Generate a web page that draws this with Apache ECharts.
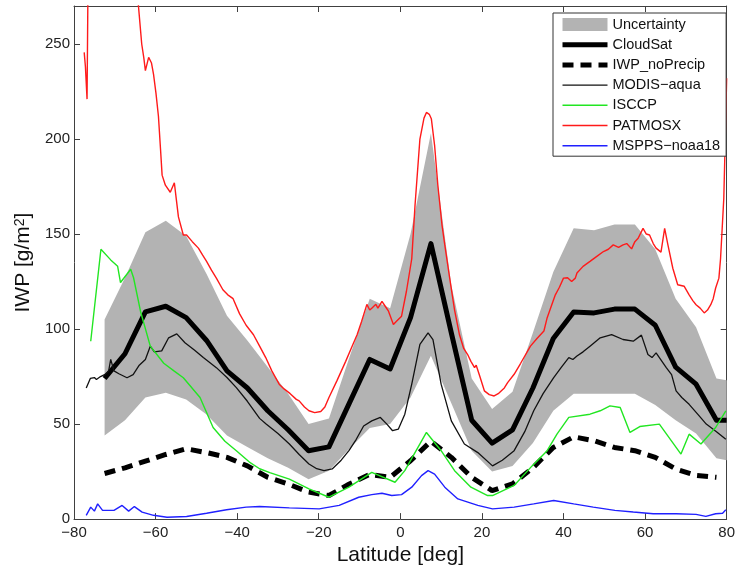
<!DOCTYPE html>
<html><head><meta charset="utf-8">
<script src="https://cdn.jsdelivr.net/npm/echarts@6/dist/echarts.min.js"></script>
<style>html,body{margin:0;padding:0;background:#fff}#c{width:738px;height:571px}</style>
</head><body><div id="c"></div>
<script>
// ---- axis ticks ----
const xTicks = [-80, -60, -40, -20, 0, 20, 40, 60, 80];
const yTicks = [0, 50, 100, 150, 200, 250];
const yMax = 270;

// ---- 5-degree bins (CloudSat, uncertainty, noPrecip) ----
const binLat = [-72.5,-67.5,-62.5,-57.5,-52.5,-47.5,-42.5,-37.5,-32.5,-27.5,-22.5,-17.5,-12.5,-7.5,-2.5,2.5,7.5,12.5,17.5,22.5,27.5,32.5,37.5,42.5,47.5,52.5,57.5,62.5,67.5,72.5,77.5,80];
const cloudsat = [74,87,109,112,106,94,78,69,57,47,36,38,61,84,79,106,145,98,52,40,47,69,95,109,108.5,110.5,110.5,102,80,71,52,52];
const bandUpper = [105,127,151,157,149,129,107,94,80,66,50,53,85,116,111,150,203,123,74,58,67,98,130,153,152,155,155,142,116,101,74,73];
const bandLower = [44,52,64,66.5,63,55,44,38,32,27,21,25.5,37,48,50,64,86,61,36,25,28,40,57,66,66,66,66,60,52,45,32,31];
const noPrecip = [24,27,30.5,34,37,35,32.5,28,22,18.5,14.2,12.4,18.5,23.5,22,30.7,41,32.5,22,15,18.5,27,37.7,43.3,41.2,37.7,36,32.5,26.4,23,22,null];

// ---- finer resolution products: [latitude, IWP] ----
const modis = [[-77,69],[-76,74],[-75,74.5],[-74.5,73.5],[-73.5,75],[-72.5,76],[-71.5,78],[-71,84],[-70.2,78],[-69,76.5],[-67,74.4],[-65.5,76],[-64,81],[-62.5,84],[-61.3,91],[-60.3,88],[-58.5,88.5],[-56.8,95.4],[-54.8,97.5],[-52.8,92.8],[-50.5,89],[-48.3,85],[-45.1,79.7],[-42.5,74.5],[-40.2,69.2],[-37.5,62],[-34.5,53],[-32.9,50],[-30,45],[-27.2,39.5],[-24.8,34],[-22.4,29],[-20.5,26.5],[-18.7,25.5],[-16.7,26.4],[-14.5,31],[-12.6,36],[-10.8,42],[-9,49],[-7,51.7],[-4.9,53.5],[-3.3,50],[-1.9,46.5],[-0.5,47.3],[1.1,55.2],[2.8,71],[4.8,92],[6.8,98],[8,94.5],[10,71],[12.5,51.7],[15.7,39.5],[19,35],[22.6,28],[25,31],[27.9,36],[30.5,46],[32.7,57],[35,66],[37.6,74.4],[39.5,80],[41.3,85],[42.3,84],[43.3,85.8],[44.8,88],[46.5,91],[49,95.4],[51.8,97.1],[54.6,94.5],[57.1,93.6],[59.1,96.8],[60.7,86.6],[61.7,85],[62.7,87.5],[65.2,79.7],[66.5,76],[67.6,67.5],[69,64],[70.8,60.4],[73,55],[75,50],[77.5,46],[79.8,42]];
const isccp = [[-75.9,93.6],[-73.4,142],[-71,136.4],[-69.3,133],[-68.6,124.5],[-66.1,131.5],[-65.4,127],[-63.7,109.4],[-61.3,91],[-58,82],[-55.5,78],[-53.2,74.4],[-49.1,64],[-45.9,48.2],[-43,41],[-40.2,36],[-37,30],[-34.5,26.5],[-32,24.5],[-27.2,21],[-22.4,15.9],[-17.5,11.5],[-12.6,16.8],[-7,24.6],[-1.3,19.4],[1.1,25.5],[6.4,45.6],[10,36],[13.3,25.5],[17.3,16.8],[21.4,12.4],[22.6,12.4],[27.9,17.7],[32.3,28],[36,36],[38.4,44.7],[41.3,53.5],[46.5,55.2],[49,57],[51.4,59.6],[53.9,58.7],[56.3,45.6],[58.7,48.7],[63.5,50],[68.8,34.2],[70.8,44.7],[73.7,39.5],[77.3,48.2],[79.8,57]];
const patmosx = [[-77.5,245.6],[-77.2,238],[-76.8,221],[-76.5,300],[-75,360],[-70,360],[-65.5,330],[-64.2,270],[-63.4,250],[-62.9,243],[-62.5,236],[-61.7,243],[-61,240],[-60.5,234],[-59.9,224],[-59.3,212],[-58.8,195],[-58.4,181],[-57.6,175.7],[-56.4,172],[-55.4,177],[-54.9,168],[-54.4,159],[-53.2,149.5],[-52.4,149.5],[-51,146],[-49.5,142.6],[-48.5,139],[-47.5,135.6],[-46.3,131],[-45.1,126.8],[-43.5,120.7],[-42.3,118],[-41,116],[-39.4,108],[-37.8,102],[-36,97],[-34.5,91],[-33,85],[-31.5,78],[-29.7,71],[-28.5,68.5],[-27,66],[-25.5,63],[-24.8,62.2],[-23.5,59],[-22.4,57],[-21,56],[-19.5,56.6],[-18.5,59],[-17.5,64],[-15.5,73],[-13.4,83],[-12,90],[-10.6,97],[-9.5,104],[-8.2,113],[-7.5,110],[-7,111],[-6,113],[-5.5,111],[-4.5,114.6],[-3.7,112],[-2.9,109.4],[-1.7,102.4],[-1,104],[0.3,106.8],[1.5,119.9],[2.8,137],[3.6,165],[4.8,200],[5.8,211],[6.4,214],[7.1,213],[7.6,210.7],[8.4,196.7],[9.2,175.7],[10.2,155],[10.9,144.3],[12.1,126.8],[13.3,110],[14.5,97],[15.5,90],[16.5,86.6],[17.3,83],[18.2,79.7],[18.6,81],[19.5,75],[20.6,67.5],[21.8,65.5],[23,64.8],[24,66],[25.5,69],[26.3,71.8],[27.9,76.2],[29.5,82],[31.9,91],[33.5,95],[35.2,99],[36,106],[37,112],[38,118],[39,122],[40,126.8],[41,127],[42,125],[42.9,126.8],[43.3,129.5],[44.8,133],[46.5,135.6],[48,138],[49.8,140.8],[51,142],[52.2,144.3],[53.5,143],[54.6,144.3],[55.5,145],[56.7,142.2],[57.5,146],[58.3,147.8],[59.5,153],[60.3,150],[61.1,149.5],[62,145],[62.7,142.6],[63.9,140.5],[64.8,153],[65.6,144.3],[66.8,132],[68,123.3],[69.6,122.5],[70.8,118],[71.7,115],[72.5,112.8],[73.5,111],[74.5,108.5],[75.3,110],[76.1,112.8],[76.7,116],[77.3,121.6],[78.1,126.8],[78.5,137],[79.3,168.8],[79.6,195],[80,232]];
const mspps = [[-77,2],[-75.9,6.3],[-75,4.2],[-74.2,8],[-73,4.6],[-70.2,4.6],[-68.2,7.2],[-66.6,4.2],[-65.2,6.6],[-63.3,3.7],[-60.5,2],[-57.2,1],[-52.4,1.4],[-47.5,3.1],[-42.6,4.9],[-37.8,6.3],[-34.5,6.6],[-27.2,5.9],[-19.9,5.4],[-15,7.2],[-10.2,11.5],[-7,12.9],[-4.5,13.6],[-2.1,12.4],[0.3,12.9],[2.8,16.8],[5.2,22.9],[6.8,25.5],[8.4,23.7],[10.9,16.8],[14.1,10.6],[19,7.2],[22.6,5.4],[27.9,6.3],[32.7,8],[37.6,9.8],[42.5,8],[47.3,6.3],[52.6,4.6],[57.1,3.7],[62,2.8],[67.6,2.8],[72.5,2.5],[74.9,1.4],[77.3,2.8],[79,3.1],[79.8,4.9]];

const FONT = '"Liberation Sans", Arial, Helvetica, sans-serif';
const frameColor = '#404040';
const bandColor = '#b3b3b3';
const zip = (xs, ys) => xs.map((x, i) => [x, ys[i]]);
const minus = s => String(s).replace('-', '\u2212');

const axisCommon = {
  axisLine: { show: true, onZero: false, lineStyle: { color: frameColor, width: 1 } },
  axisTick: { show: true, inside: true, length: 6, lineStyle: { color: frameColor, width: 1 } },
  splitLine: { show: false }
};
const xInterval = xTicks[1] - xTicks[0];
const yInterval = yTicks[1] - yTicks[0];

// uncertainty band drawn as one polygon through the axis scales
function renderBand(params, api) {
  if (params.dataIndex !== 0) return null;
  const pts = [];
  for (let i = 0; i < binLat.length; i++) pts.push(api.coord([binLat[i], bandUpper[i]]));
  for (let i = binLat.length - 1; i >= 0; i--) pts.push(api.coord([binLat[i], bandLower[i]]));
  return { type: 'polygon', shape: { points: pts }, style: { fill: bandColor, stroke: null } };
}

const hideSym = { opacity: 0 };
const chart = echarts.init(document.getElementById('c'), null, { renderer: 'canvas' });
chart.setOption({
  animation: false,
  backgroundColor: '#fff',
  grid: { left: 74, right: 8, top: 6, bottom: 49, containLabel: false },
  xAxis: [
    Object.assign({
      type: 'value', position: 'bottom', min: xTicks[0], max: xTicks[xTicks.length - 1], interval: xInterval,
      name: 'Latitude [deg]', nameLocation: 'middle', nameGap: 25,
      nameTextStyle: { fontSize: 21, color: '#111', fontFamily: FONT },
      axisLabel: { fontSize: 15, color: '#222', fontFamily: FONT, margin: 6, formatter: v => minus(v) }
    }, axisCommon),
    Object.assign({
      type: 'value', position: 'top', min: xTicks[0], max: xTicks[xTicks.length - 1], interval: xInterval,
      axisLabel: { show: false }
    }, axisCommon)
  ],
  yAxis: [
    Object.assign({
      type: 'value', position: 'left', min: yTicks[0], max: yMax, interval: yInterval,
      name: 'IWP [g/m{sup|2}]', nameLocation: 'middle', nameGap: 32,
      nameTextStyle: { fontSize: 21, color: '#111', fontFamily: FONT,
        rich: { sup: { fontSize: 14, color: '#111', fontFamily: FONT, verticalAlign: 'top' } } },
      axisLabel: { fontSize: 15, color: '#222', fontFamily: FONT, margin: 4, showMaxLabel: false }
    }, axisCommon),
    Object.assign({
      type: 'value', position: 'right', min: yTicks[0], max: yMax, interval: yInterval,
      axisLabel: { show: false }
    }, axisCommon)
  ],
  legend: {
    orient: 'vertical', left: 553, top: 13,
    itemWidth: 45, itemHeight: 13, itemGap: 5.2,
    padding: [4, 6, 3, 7],
    borderColor: '#333', borderWidth: 1, backgroundColor: '#fff',
    selectedMode: false,
    lineStyle: { width: 'inherit' },
    textStyle: { fontSize: 14.5, lineHeight: 13, color: '#111', fontFamily: FONT },
    formatter: n => minus(n),
    data: [
      { name: 'Uncertainty', icon: 'rect', itemStyle: { color: bandColor } },
      { name: 'CloudSat', itemStyle: hideSym },
      { name: 'IWP_noPrecip', itemStyle: hideSym },
      { name: 'MODIS-aqua', itemStyle: hideSym },
      { name: 'ISCCP', itemStyle: hideSym },
      { name: 'PATMOSX', itemStyle: hideSym },
      { name: 'MSPPS-noaa18', itemStyle: hideSym }
    ]
  },
  series: [
    { name: 'Uncertainty', type: 'custom', silent: true, renderItem: renderBand,
      encode: { x: 0, y: 1 }, data: zip(binLat, bandUpper), itemStyle: { color: bandColor }, z: 1 },
    { name: 'CloudSat', type: 'line', symbol: 'none', data: zip(binLat, cloudsat),
      itemStyle: { color: '#000' }, lineStyle: { color: '#000', width: 5, join: 'round' } },
    { name: 'IWP_noPrecip', type: 'line', symbol: 'none', data: zip(binLat, noPrecip),
      itemStyle: { color: '#000' }, lineStyle: { color: '#000', width: 5, type: [11, 7] } },
    { name: 'MODIS-aqua', type: 'line', symbol: 'none', data: modis,
      itemStyle: { color: '#111' }, lineStyle: { color: '#111', width: 1.3 } },
    { name: 'ISCCP', type: 'line', symbol: 'none', data: isccp,
      itemStyle: { color: '#22e622' }, lineStyle: { color: '#22e622', width: 1.4 } },
    { name: 'PATMOSX', type: 'line', symbol: 'none', data: patmosx,
      itemStyle: { color: '#ff1a1a' }, lineStyle: { color: '#ff1a1a', width: 1.4 } },
    { name: 'MSPPS-noaa18', type: 'line', symbol: 'none', data: mspps,
      itemStyle: { color: '#2020ff' }, lineStyle: { color: '#2020ff', width: 1.4 } }
  ]
});
</script>
</body></html>
